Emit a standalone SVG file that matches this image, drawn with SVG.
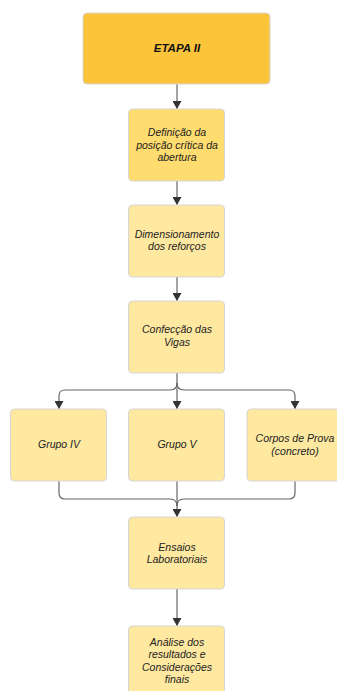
<svg xmlns="http://www.w3.org/2000/svg" width="337" height="691" viewBox="0 0 337 691">
  <defs>
    <marker id="arrow" viewBox="0 0 8 9" refX="8" refY="4.5" markerWidth="8" markerHeight="9" markerUnits="userSpaceOnUse" orient="auto">
      <path d="M0,0 L8,4.5 L0,9 Z" fill="#333333"/>
    </marker>
    <style>
      .box { stroke: #d6d6d6; stroke-width: 1; }
      .etapa { fill: #fbc43a; }
      .hl { fill: #ffdc6f; }
      .step { fill: #ffe9a1; }
      .lbl { font-family: "Liberation Sans", Arial, sans-serif; font-size: 10.5px; font-style: italic; fill: #222222; text-anchor: middle; }
      .title { font-size: 11.5px; font-weight: bold; fill: #111111; }
      .wire { fill: none; stroke: #666666; stroke-width: 1.2; }
    </style>
  </defs>

  <rect width="337" height="691" fill="#ffffff"/>

  <!-- connectors -->
  <g id="connectors">
    <path class="wire" d="M177,84 V109" marker-end="url(#arrow)"/>
    <path class="wire" d="M177,181 V205" marker-end="url(#arrow)"/>
    <path class="wire" d="M177,277 V301" marker-end="url(#arrow)"/>
    <!-- split to the three groups -->
    <path class="wire" d="M177,373 V409" marker-end="url(#arrow)"/>
    <path class="wire" d="M177,383 Q177,390 170,390 H65 Q59,390 59,396 V409" marker-end="url(#arrow)"/>
    <path class="wire" d="M177,383 Q177,390 184,390 H289 Q295,390 295,396 V409" marker-end="url(#arrow)"/>
    <!-- merge into the lab tests -->
    <path class="wire" d="M177,481 V517" marker-end="url(#arrow)"/>
    <path class="wire" d="M59,481 V493 Q59,499 65,499 H170 Q177,499 177,506"/>
    <path class="wire" d="M295,481 V493 Q295,499 289,499 H184 Q177,499 177,506"/>
    <path class="wire" d="M177,589 V626" marker-end="url(#arrow)"/>
  </g>

  <g id="etapa">
    <rect class="box etapa" x="83" y="13" width="187" height="71" rx="4"/>
    <text class="lbl title" x="177" y="52">ETAPA II</text>
  </g>

  <g id="definicao">
    <rect class="box hl" x="128.5" y="109" width="96" height="72" rx="4"/>
    <text class="lbl" x="177" y="136">Definição da</text>
    <text class="lbl" x="177" y="148.5">posição crítica da</text>
    <text class="lbl" x="177" y="161">abertura</text>
  </g>

  <g id="dimensionamento">
    <rect class="box step" x="128.5" y="205" width="96" height="72" rx="4"/>
    <text class="lbl" x="177" y="237.5">Dimensionamento</text>
    <text class="lbl" x="177" y="250">dos reforços</text>
  </g>

  <g id="confeccao">
    <rect class="box step" x="128.5" y="301" width="96" height="72" rx="4"/>
    <text class="lbl" x="177" y="333">Confecção das</text>
    <text class="lbl" x="177" y="345.5">Vigas</text>
  </g>

  <g id="grupo-iv">
    <rect class="box step" x="10.5" y="409" width="96" height="72" rx="4"/>
    <text class="lbl" x="59" y="448">Grupo IV</text>
  </g>

  <g id="grupo-v">
    <rect class="box step" x="128.5" y="409" width="96" height="72" rx="4"/>
    <text class="lbl" x="177" y="448">Grupo V</text>
  </g>

  <g id="corpos-de-prova">
    <rect class="box step" x="247" y="409" width="96" height="72" rx="4"/>
    <text class="lbl" x="295" y="442">Corpos de Prova</text>
    <text class="lbl" x="295" y="455">(concreto)</text>
  </g>

  <g id="ensaios">
    <rect class="box step" x="128.5" y="517" width="96" height="72" rx="4"/>
    <text class="lbl" x="177" y="550.5">Ensaios</text>
    <text class="lbl" x="177" y="563">Laboratoriais</text>
  </g>

  <g id="analise">
    <rect class="box step" x="128.5" y="626" width="96" height="72" rx="4"/>
    <text class="lbl" x="177" y="645.5">Análise dos</text>
    <text class="lbl" x="177" y="658">resultados e</text>
    <text class="lbl" x="177" y="670.5">Considerações</text>
    <text class="lbl" x="177" y="683">finais</text>
  </g>
</svg>
